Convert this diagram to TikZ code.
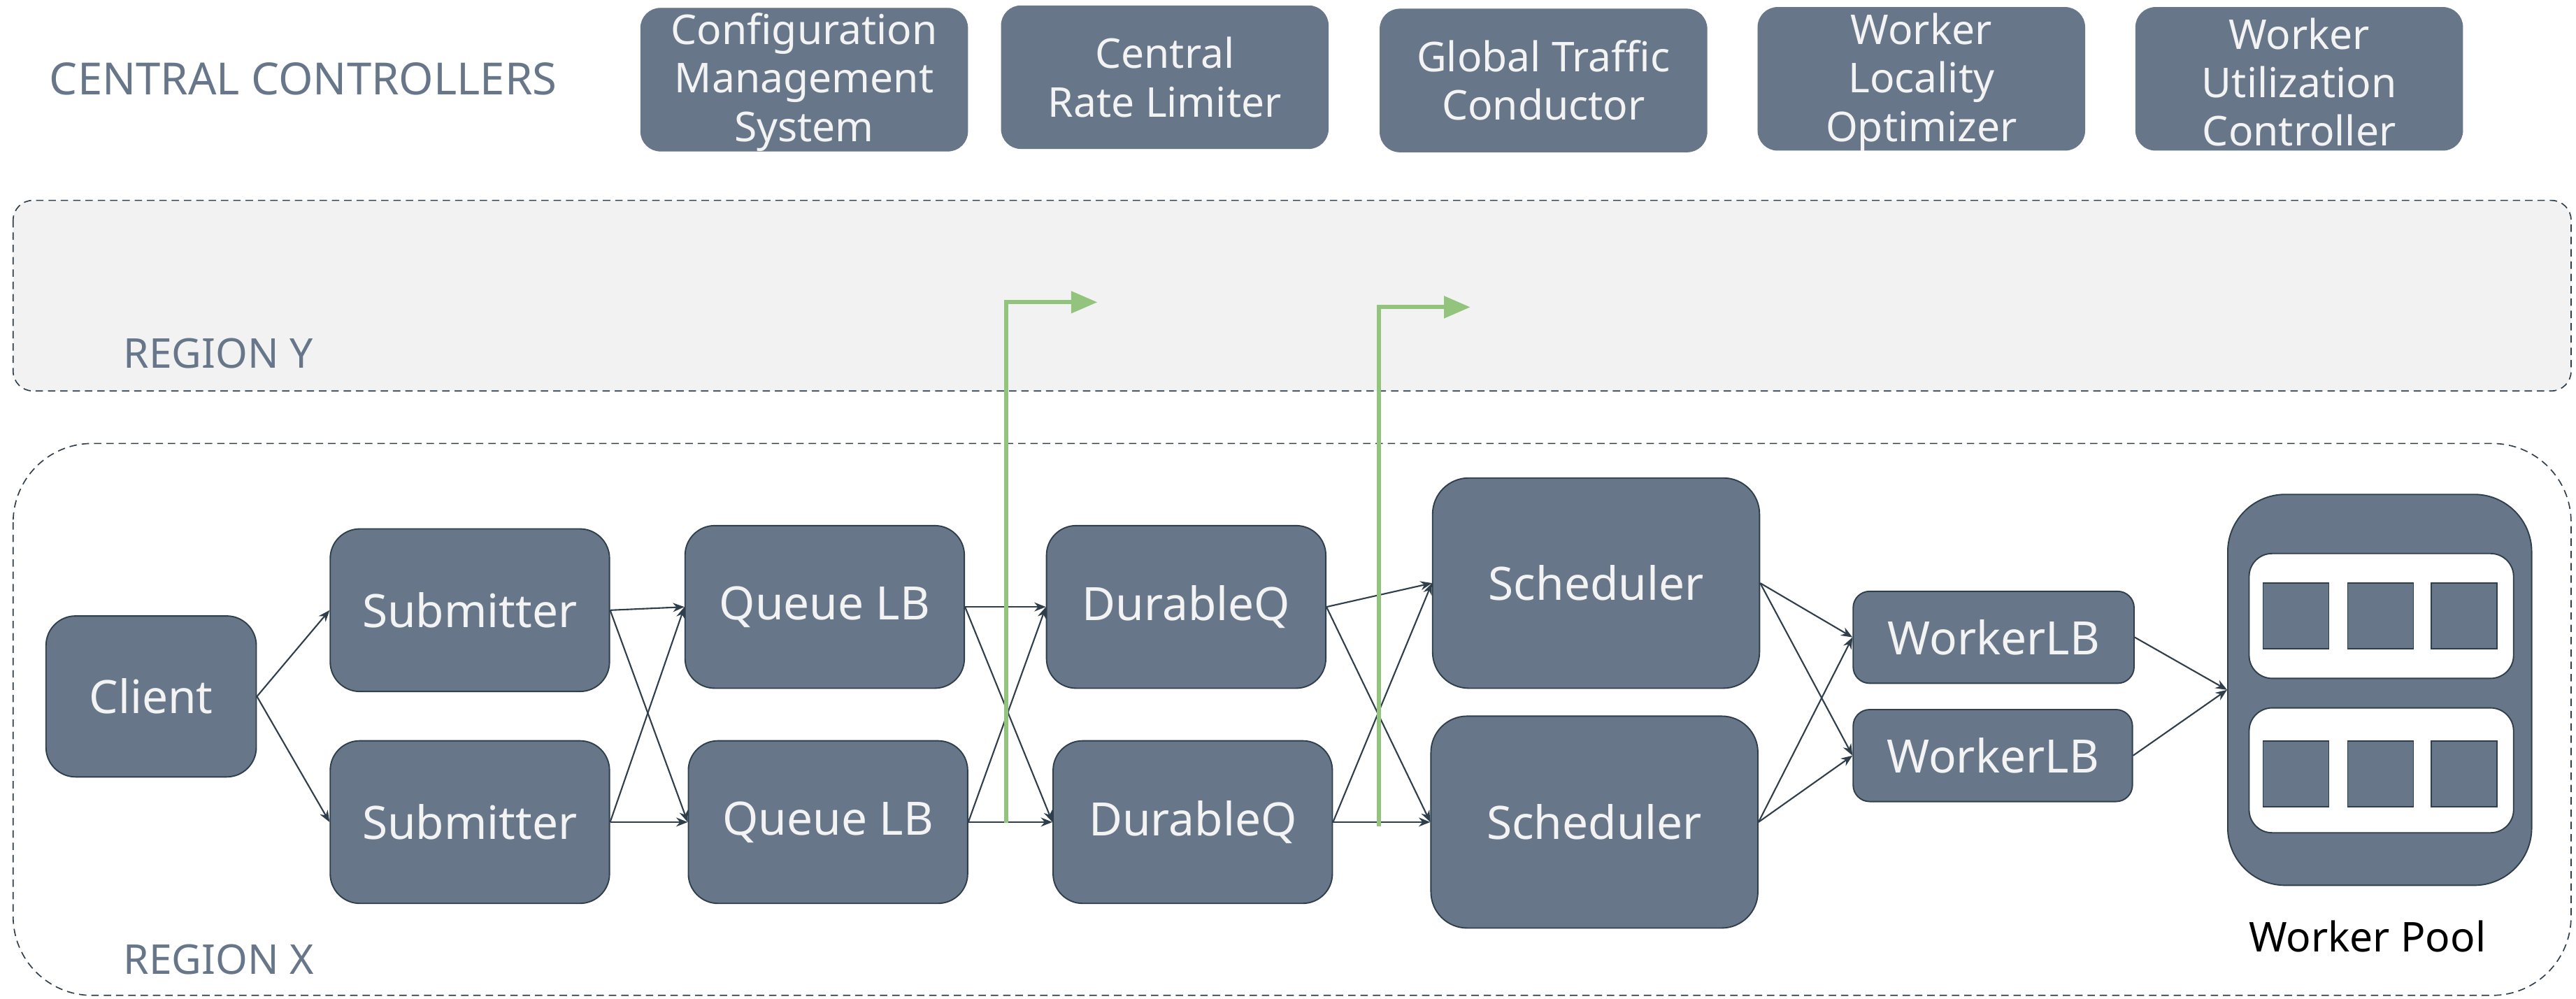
\documentclass[tikz,border=0pt]{standalone}
\usepackage{fontspec}
\setmainfont{Noto Sans}
\usetikzlibrary{arrows.meta}
\definecolor{slate}{RGB}{103,119,137}
\definecolor{edgecol}{RGB}{47,62,75}
\definecolor{boxtext}{RGB}{243,243,243}
\definecolor{regionfill}{RGB}{242,242,242}
\definecolor{flow}{RGB}{147,196,125}

\begin{document}
\begin{tikzpicture}[x=1pt,y=-1pt,
  box/.style={draw=edgecol, line width=0.8pt, fill=slate, rounded corners=18pt,
    text=boxtext, font=\fontsize{28}{32}\selectfont, align=center, inner sep=0pt},
  ctrl/.style={draw=slate, fill=slate, rounded corners=12pt, text=boxtext,
    font=\fontsize{25}{29.5}\selectfont, align=center, inner sep=0pt,
    minimum width=199pt, minimum height=87pt},
  ctrltext/.style={text=boxtext, font=\fontsize{25}{29.5}\selectfont, align=center, inner sep=0pt},
  region/.style={draw=edgecol, line width=0.7pt, dash pattern=on 4.5pt off 3pt},
  caption/.style={text=slate, font=\fontsize{25}{30}\selectfont, inner sep=0pt, anchor=west},
  link/.style={draw=edgecol, line width=0.9pt, -{Stealth[length=7pt,width=5.5pt]}},
  uplink/.style={draw=flow, line width=2.6pt, -{Triangle[length=16pt,width=13pt]}},
  rack/.style={draw=edgecol, line width=0.8pt, fill=white, rounded corners=14pt,
    minimum width=161pt, minimum height=76pt, inner sep=0pt},
  slot/.style={draw=edgecol, line width=0.8pt, fill=slate, minimum width=40pt,
    minimum height=40pt, inner sep=0pt}
]
\useasboundingbox (0,0) rectangle (1568,608);

% regions
\draw[region, fill=regionfill, rounded corners=12pt] (8,122) rectangle (1565,238);
\draw[region, fill=white, rounded corners=48pt] (8,270) rectangle (1565,606);
\node[caption] (lblY) at (75,215) {REGION Y};
\node[caption] (lblX) at (75,584) {REGION X};

% central controllers
\node[caption, font=\fontsize{27}{32}\selectfont] (lblC) at (30,48) {CENTRAL CONTROLLERS};
\node[ctrl] (cms) at (489.5,48.5) {};
\node[ctrl] (crl) at (709,47) {Central\\Rate Limiter};
\node[ctrl] (gtc) at (939.5,49) {Global Traffic\\Conductor};
\node[ctrl] (wlo) at (1169.5,48) {};
\node[ctrl] (wuc) at (1399.5,48) {};
\node[ctrltext] (cmstxt) at (489.5,50) {Configuration\\Management\\System};
\node[ctrltext] (wlotxt) at (1169.5,50) {Worker\\Locality\\Optimizer};
\node[ctrltext] (wuctxt) at (1399.5,50) {Worker\\Utilization\\Controller};

% request path
\node[box, minimum width=128pt, minimum height=98pt] (client) at (92,424) {Client};
\node[box, minimum width=170pt, minimum height=99pt] (sub1) at (286,371.5) {Submitter};
\node[box, minimum width=170pt, minimum height=99pt] (sub2) at (286,500.5) {Submitter};
\node[box, minimum width=170pt, minimum height=99pt] (qlb1) at (502,369.5) {Queue LB};
\node[box, minimum width=170pt, minimum height=99pt] (qlb2) at (504,500.5) {Queue LB};
\node[box, minimum width=170pt, minimum height=99pt] (dq1) at (722,369.5) {DurableQ};
\node[box, minimum width=170pt, minimum height=99pt] (dq2) at (726,500.5) {DurableQ};
\node[box, rounded corners=22pt, minimum width=199pt, minimum height=128pt] (sch1) at (971.5,355) {Scheduler};
\node[box, rounded corners=22pt, minimum width=199pt, minimum height=129pt] (sch2) at (970.5,500.5) {Scheduler};
\node[box, rounded corners=10pt, minimum width=171pt, minimum height=56pt] (wlb1) at (1213.5,388) {WorkerLB};
\node[box, rounded corners=10pt, minimum width=170pt, minimum height=56pt] (wlb2) at (1213,460) {WorkerLB};

% worker pool
\node[box, rounded corners=35pt, minimum width=185pt, minimum height=238pt] (pool) at (1448.5,420) {};
\node[rack] (rack1) at (1449.5,375) {};
\node[rack] (rack2) at (1449.5,469) {};
\foreach \r/\y in {1/375, 2/471} {
  \foreach \c/\x in {1/1397.5, 2/1449, 3/1500} {
    \node[slot] (slot\r\c) at (\x,\y) {};
  }
}
\node[inner sep=0pt, text=black, font=\fontsize{25}{30}\selectfont] (poollbl) at (1441,570) {Worker Pool};

% connectors
\draw[link] (client.east) -- (sub1.west);
\draw[link] (client.east) -- (sub2.west);
\foreach \a in {sub1, sub2} {
  \draw[link] (\a.east) -- (qlb1.west);
  \draw[link] (\a.east) -- (qlb2.west);
}
\foreach \a in {qlb1, qlb2} {
  \draw[link] (\a.east) -- (dq1.west);
  \draw[link] (\a.east) -- (dq2.west);
}
\foreach \a in {dq1, dq2} {
  \draw[link] (\a.east) -- (sch1.west);
  \draw[link] (\a.east) -- (sch2.west);
}
\foreach \a in {sch1, sch2} {
  \draw[link] (\a.east) -- (wlb1.west);
  \draw[link] (\a.east) -- (wlb2.west);
}
\draw[link] (wlb1.east) -- (pool.west);
\draw[link] (wlb2.east) -- (pool.west);

% cross-region forwarding
\coordinate (up1s) at (612.5,501);
\coordinate (up1e) at (668,184);
\coordinate (up2s) at (839.5,503);
\coordinate (up2e) at (895,187);
\draw[uplink] (up1s) |- (up1e);
\draw[uplink] (up2s) |- (up2e);
\end{tikzpicture}
\end{document}
